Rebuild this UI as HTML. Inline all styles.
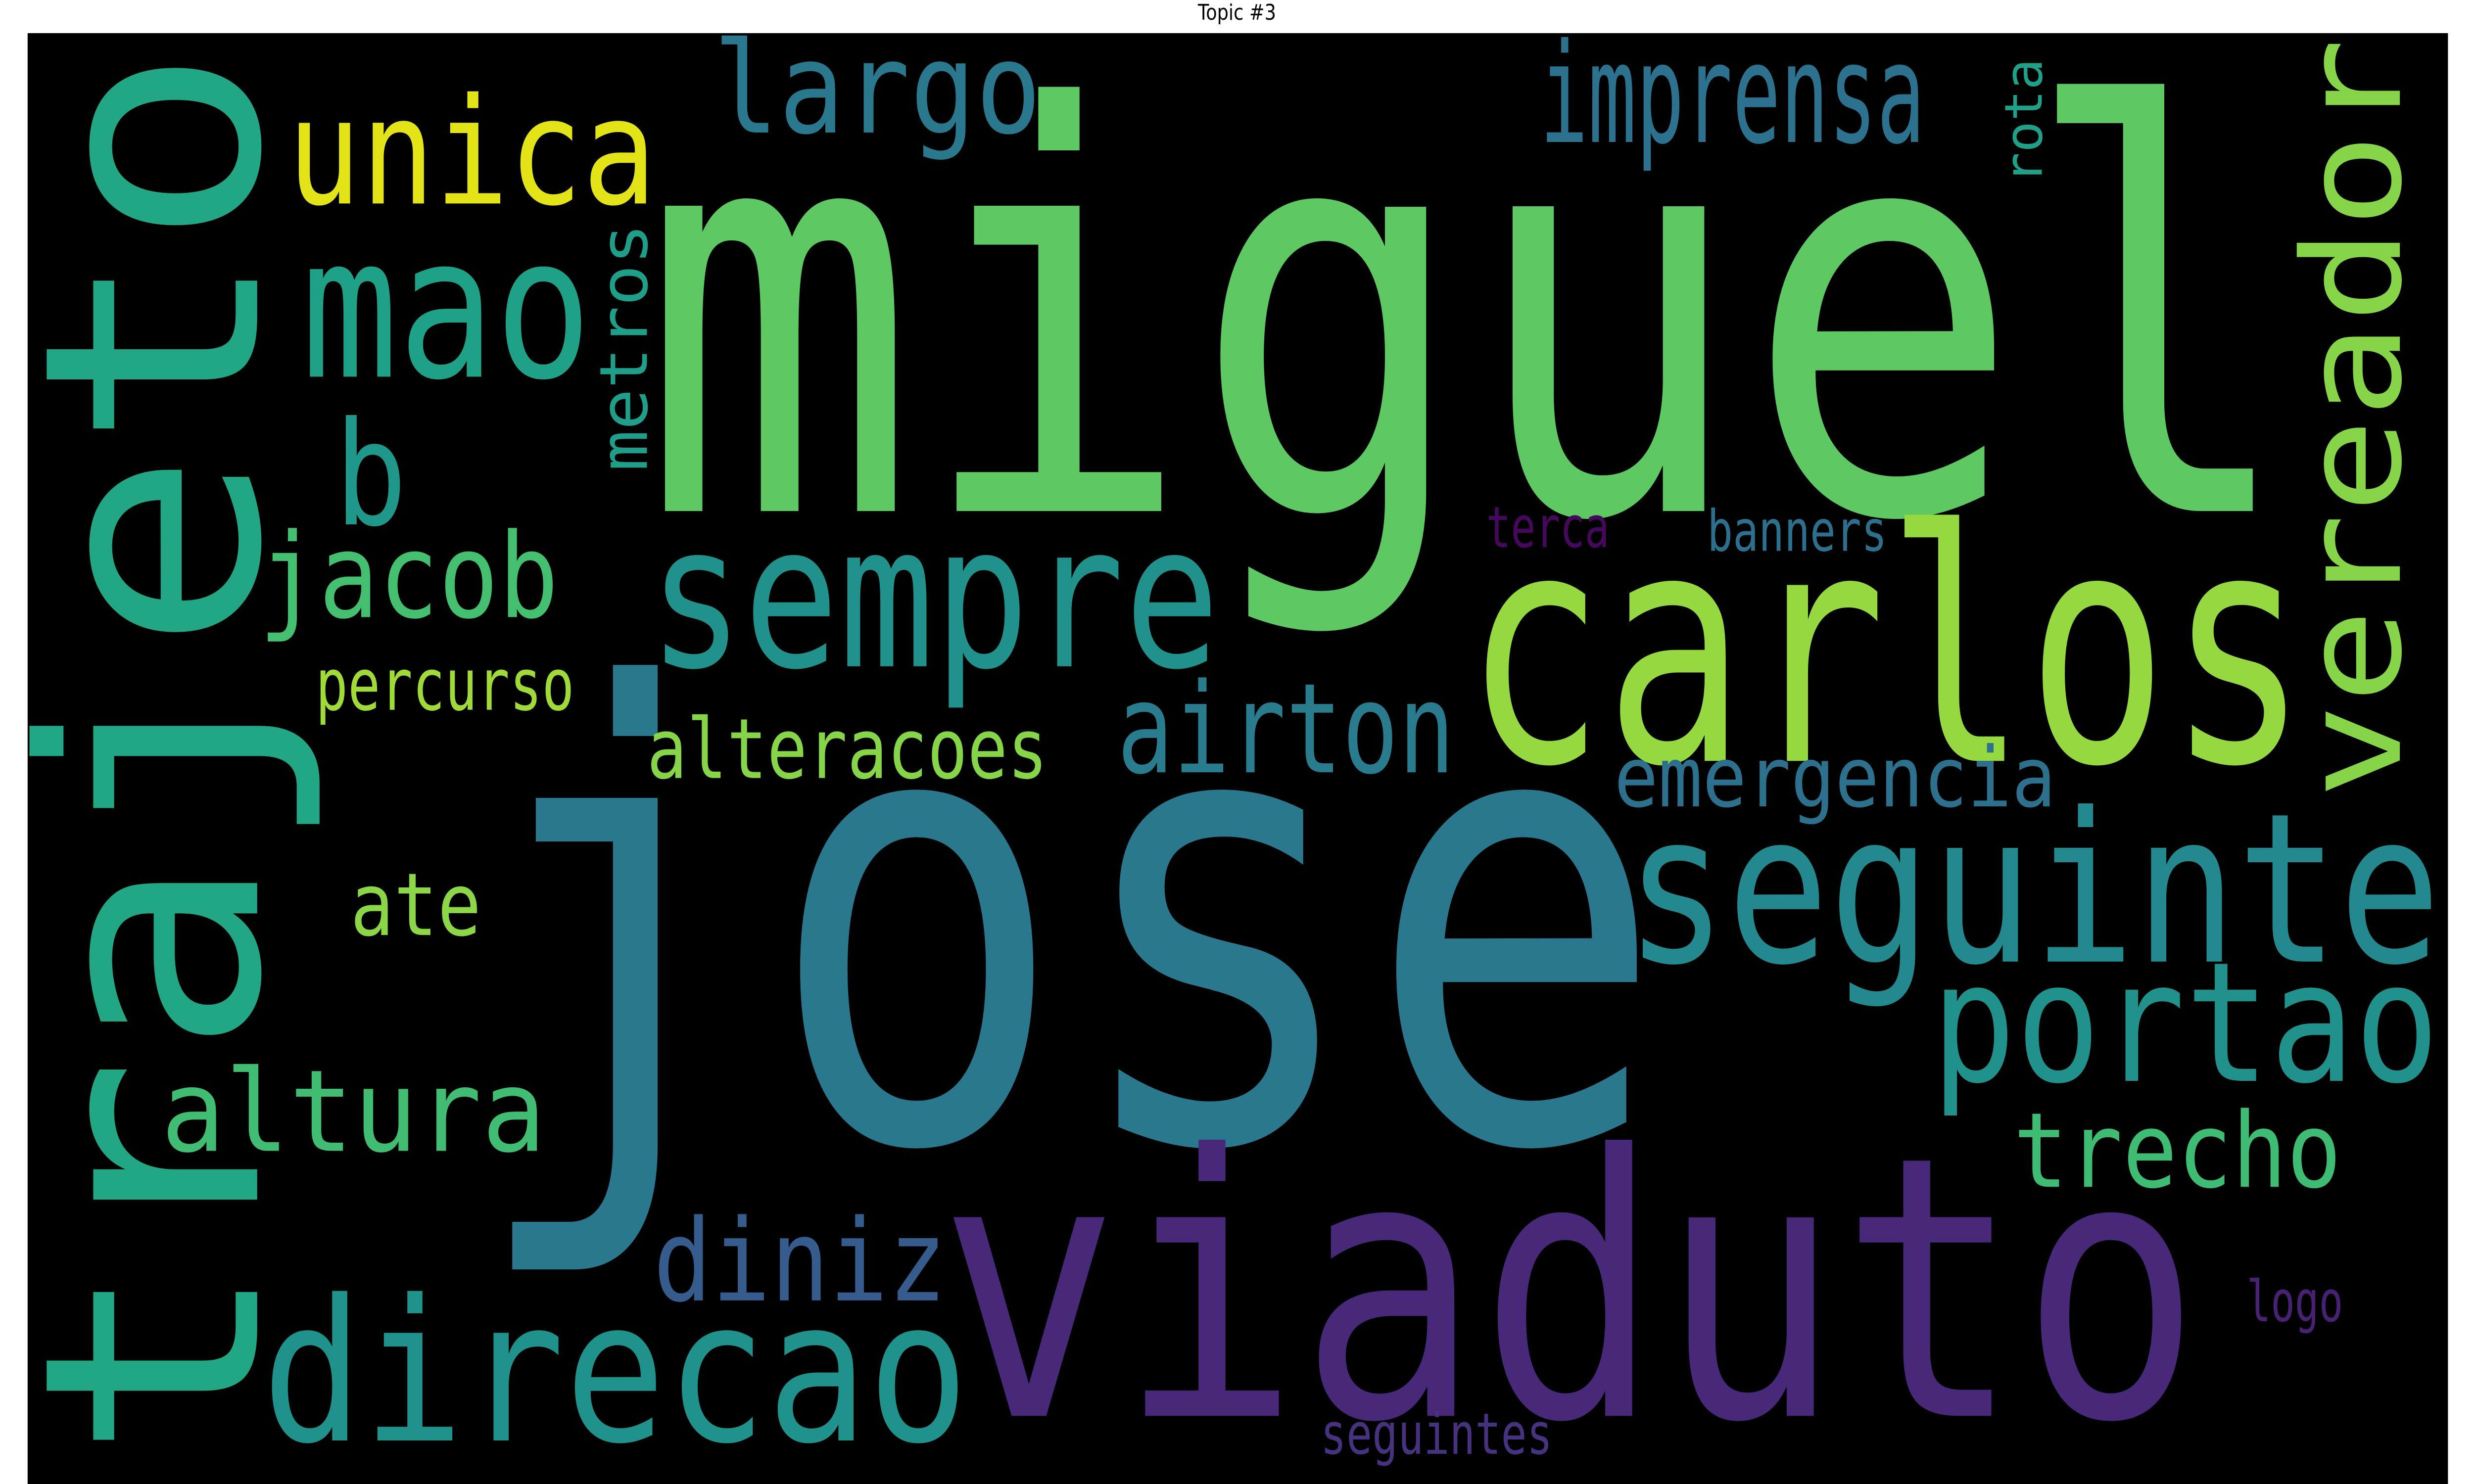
<!DOCTYPE html>
<html>
<head>
<meta charset="utf-8">
<style>
html,body{margin:0;padding:0;background:#fff;width:100%;height:100%;overflow:hidden;}
svg{display:block;position:fixed;left:0;top:0;width:100vw;height:100vh;}
text{font-family:"DejaVu Sans Mono","Liberation Mono",monospace;}
</style>
</head>
<body>
<svg viewBox="0 0 1568 784" preserveAspectRatio="none" xmlns="http://www.w3.org/2000/svg">
  <rect x="0" y="0" width="1568" height="784" fill="#ffffff"/>
  <text x="784" y="10.5" text-anchor="middle" font-size="11.5" fill="#000" style="font-family:'DejaVu Sans','Liberation Sans',sans-serif">Topic #3</text>
  <rect x="17.5" y="17.5" width="1534" height="767" fill="#000000"/>
  <g>
    <text x="406" y="270" font-size="295" fill="#5ec962" textLength="1050" lengthAdjust="spacingAndGlyphs">miguel</text>
    <text x="296" y="602" font-size="330" fill="#2a788e" textLength="760" lengthAdjust="spacingAndGlyphs">jose</text>
    <text x="595" y="748" font-size="192" fill="#482878" textLength="800" lengthAdjust="spacingAndGlyphs">viaduto</text>
    <text x="928" y="402" font-size="170" fill="#95d840" textLength="535" lengthAdjust="spacingAndGlyphs">carlos</text>
    <text transform="translate(163,772) rotate(-90)" x="0" y="0" font-size="190" fill="#22a785" textLength="748" lengthAdjust="spacingAndGlyphs">trajeto</text>
    <text transform="translate(1521,422) rotate(-90)" x="0" y="0" font-size="86" fill="#86d549" textLength="402" lengthAdjust="spacingAndGlyphs">vereador</text>
    <text x="1030" y="508" font-size="110" fill="#23898e" textLength="517" lengthAdjust="spacingAndGlyphs">seguinte</text>
    <text x="1224" y="571" font-size="88" fill="#21918c" textLength="322" lengthAdjust="spacingAndGlyphs">portao</text>
    <text x="1276" y="627" font-size="55" fill="#3fbc73" textLength="208" lengthAdjust="spacingAndGlyphs">trecho</text>
    <text x="1023" y="426" font-size="44" fill="#2d708e" textLength="280" lengthAdjust="spacingAndGlyphs">emergencia</text>
    <text x="708" y="408" font-size="66" fill="#297b8e" textLength="214" lengthAdjust="spacingAndGlyphs">airton</text>
    <text x="976" y="75" font-size="73" fill="#2c728e" textLength="244" lengthAdjust="spacingAndGlyphs">imprensa</text>
    <text x="452" y="70" font-size="67" fill="#2a788e" textLength="208" lengthAdjust="spacingAndGlyphs">largo</text>
    <text x="182" y="107.5" font-size="78" fill="#e2e418" textLength="234" lengthAdjust="spacingAndGlyphs">unica</text>
    <text x="191" y="199" font-size="104" fill="#1fa187" textLength="184" lengthAdjust="spacingAndGlyphs">mao</text>
    <text x="212" y="277" font-size="76" fill="#1f988b" textLength="46" lengthAdjust="spacingAndGlyphs">b</text>
    <text x="164" y="326" font-size="62" fill="#44bf70" textLength="190" lengthAdjust="spacingAndGlyphs">jacob</text>
    <text transform="translate(410,249) rotate(-90)" x="0" y="0" font-size="42" fill="#1f9e89" textLength="131" lengthAdjust="spacingAndGlyphs">metros</text>
    <text x="411" y="352" font-size="105" fill="#21918c" textLength="362" lengthAdjust="spacingAndGlyphs">sempre</text>
    <text x="200" y="375" font-size="38" fill="#a0da39" textLength="164" lengthAdjust="spacingAndGlyphs">percurso</text>
    <text x="410" y="411" font-size="44" fill="#86d549" textLength="254" lengthAdjust="spacingAndGlyphs">alteracoes</text>
    <text x="222" y="494" font-size="46" fill="#8bd646" textLength="83" lengthAdjust="spacingAndGlyphs">ate</text>
    <text x="102" y="608" font-size="60" fill="#40bd72" textLength="244" lengthAdjust="spacingAndGlyphs">altura</text>
    <text x="414" y="687" font-size="60" fill="#365c8d" textLength="186" lengthAdjust="spacingAndGlyphs">diniz</text>
    <text x="166" y="761" font-size="104" fill="#20928c" textLength="448" lengthAdjust="spacingAndGlyphs">direcao</text>
    <text transform="translate(1294,97) rotate(-90)" x="0" y="0" font-size="33" fill="#1fa088" textLength="66" lengthAdjust="spacingAndGlyphs">rota</text>
    <text x="942" y="289" font-size="30" fill="#46085c" textLength="78" lengthAdjust="spacingAndGlyphs">terca</text>
    <text x="1082" y="291" font-size="30" fill="#2d708e" textLength="114" lengthAdjust="spacingAndGlyphs">banners</text>
    <text x="1424" y="698" font-size="30" fill="#482173" textLength="61" lengthAdjust="spacingAndGlyphs">logo</text>
    <text x="837" y="768" font-size="30" fill="#46327e" textLength="147" lengthAdjust="spacingAndGlyphs">seguintes</text>
  </g>
</svg>
</body>
</html>
